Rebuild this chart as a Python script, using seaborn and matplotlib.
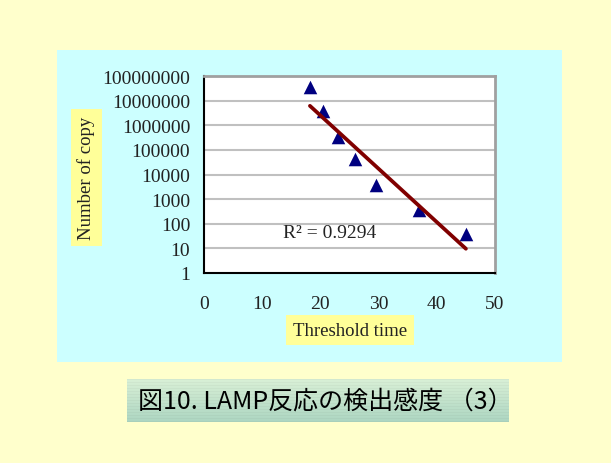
import numpy as np
import pandas as pd
import matplotlib
matplotlib.use("Agg")
import matplotlib.pyplot as plt
from matplotlib.patches import Rectangle
import seaborn as sb

# data
threshold_time = [18.2, 20.5, 23.1, 25.9, 29.5, 37.0, 45.0]
copy_number = [3.5e7, 3.7e6, 3.3e5, 4.2e4, 3800, 370, 37]
r2_text = "R\u00b2 = 0.9294"
x_ticks = [0, 10, 20, 30, 40, 50]
y_ticks = [1, 10, 100, 1000, 10000, 100000, 1000000, 10000000, 100000000]
y_ticklabels = ["1", "10", "100", "1000", "10000", "100000", "1000000", "10000000", "100000000"]
title = "図10. LAMP反応の検出感度 （3）"

sb.set_style("white")
plt.rcParams["font.family"] = ["Liberation Serif", "DejaVu Serif"]

W, H = 611, 464
fig = plt.figure(figsize=(W / 100, H / 100), dpi=100)
fig.patch.set_facecolor("#FFFFCC")

def fx(px):
    return px / W

def fy(py):
    return 1 - py / H

# cyan panel
fig.patches.append(Rectangle((fx(57), fy(363)), fx(505), 312 / H, transform=fig.transFigure,
                             facecolor="#CCFFFF", edgecolor="none", zorder=-5))

ax = fig.add_axes([fx(204), fy(274), fx(291), 197 / H])
ax.set_facecolor("white")

df = pd.DataFrame({"t": threshold_time, "n": copy_number})
# exponential trendline (linear fit in log space)
slope, icpt = np.polyfit(df["t"], np.log10(df["n"]), 1)
tline = np.linspace(df["t"].min(), df["t"].max(), 60)
trend = pd.DataFrame({"t": tline, "n": 10 ** (icpt + slope * tline)})

sb.scatterplot(data=df, x="t", y="n", marker="^", color="#000080", s=95, linewidth=0, ax=ax, zorder=3)
sb.lineplot(data=trend, x="t", y="n", color="#800000", linewidth=2.7, ax=ax, zorder=4)

ax.set_yscale("log")
ax.set_xlim(0, 50)
ax.set_ylim(1, 1e8)
ax.set_xticks(x_ticks)
ax.set_yticks(y_ticks)
ax.set_yticklabels(y_ticklabels)
ax.yaxis.set_minor_locator(matplotlib.ticker.NullLocator())
ax.tick_params(axis="y", length=0, pad=10, labelsize=14, labelcolor="#222222")
ax.tick_params(axis="x", direction="in", length=4, width=1, pad=16, labelsize=14,
               color="black", labelcolor="#222222")
ax.set_xlabel("")
ax.set_ylabel("")
for yv in y_ticks[1:-1]:
    ax.axhline(yv, color="#C0C0C0", linewidth=1.5, zorder=1)

for side in ["left", "bottom"]:
    ax.spines[side].set_color("black")
    ax.spines[side].set_linewidth(1.5)
for side in ["top", "right"]:
    ax.spines[side].set_color("#A0A0A0")
    ax.spines[side].set_linewidth(2)
for s in ax.spines.values():
    s.set_visible(True)

ax.text(13.5, 45, r2_text, fontsize=14, color="#222222", va="center", ha="left")

fig.text(fx(350), fy(331), "Threshold time", fontsize=13.5, color="#222222", ha="center", va="center",
         bbox=dict(facecolor="#FFFF99", edgecolor="none", boxstyle="square,pad=0.35"))
fig.text(fx(86.5), fy(178.5), "Number of copy", fontsize=13.5, color="#222222", ha="center", va="center",
         rotation=90, bbox=dict(facecolor="#FFFF99", edgecolor="none", boxstyle="square,pad=0.35"))

# title box with gradient
tax = fig.add_axes([fx(127), fy(423), fx(382), 43 / H])
top = np.array([0.85, 0.94, 0.84])
bot = np.array([0.68, 0.84, 0.76])
g = np.linspace(0, 1, 43)[:, None]
grad = top[None, :] * (1 - g) + bot[None, :] * g
grad[::3] = grad[::3] * 0.97
tax.imshow(grad[:, None, :].repeat(10, axis=1), aspect="auto", extent=[0, 1, 0, 1], origin="upper")
tax.set_axis_off()
tax.text(0.52, 0.5, title, fontsize=18, ha="center", va="center", color="black",
         family=["Noto Sans CJK JP", "DejaVu Sans"])

fig.savefig("out.png", dpi=100)
